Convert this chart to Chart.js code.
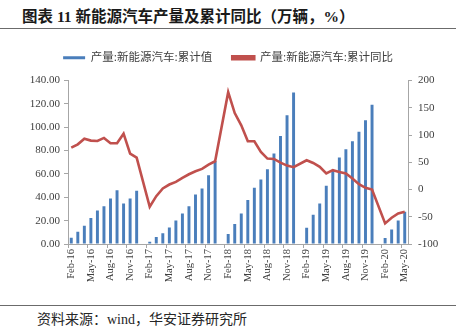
<!DOCTYPE html>
<html>
<head>
<meta charset="utf-8">
<script src="https://cdn.jsdelivr.net/npm/chart.js@4/dist/chart.umd.min.js"></script>
<style>
  html, body { margin: 0; padding: 0; background: #fff; }
  #page { position: relative; width: 456px; height: 336px; overflow: hidden; }
  #title { position: absolute; left: 22px; top: 4px; font: bold 15.5px 'Liberation Serif', 'Noto Sans CJK SC', serif; color: #1a1a1a; white-space: nowrap; }
  .rule { position: absolute; left: 0; width: 456px; height: 1px; background: #6b6b6b; }
  #source { position: absolute; left: 37px; top: 308px; font: 14px 'Liberation Serif', 'Noto Sans CJK SC', serif; color: #262626; white-space: nowrap; }
  #box { position: absolute; left: 0; top: 32px; width: 456px; height: 268px; }
</style>
</head>
<body>
<div id="page">
  <div id="title">图表 11 新能源汽车产量及累计同比（万辆，%）</div>
  <div class="rule" style="top:28px"></div>
  <div id="box"><canvas id="myChart"></canvas></div>
  <div class="rule" style="top:305px"></div>
  <div id="source">资料来源：wind，华安证券研究所</div>
</div>

<script>
    // months, Jan has no separate figure (reported together with Feb)
    var months = [
        'Feb-16', 'Mar-16', 'Apr-16', 'May-16', 'Jun-16', 'Jul-16', 'Aug-16', 'Sep-16', 'Oct-16', 'Nov-16', 'Dec-16',
        'Jan-17', 'Feb-17', 'Mar-17', 'Apr-17', 'May-17', 'Jun-17', 'Jul-17', 'Aug-17', 'Sep-17', 'Oct-17', 'Nov-17', 'Dec-17',
        'Jan-18', 'Feb-18', 'Mar-18', 'Apr-18', 'May-18', 'Jun-18', 'Jul-18', 'Aug-18', 'Sep-18', 'Oct-18', 'Nov-18', 'Dec-18',
        'Jan-19', 'Feb-19', 'Mar-19', 'Apr-19', 'May-19', 'Jun-19', 'Jul-19', 'Aug-19', 'Sep-19', 'Oct-19', 'Nov-19', 'Dec-19',
        'Jan-20', 'Feb-20', 'Mar-20', 'Apr-20', 'May-20'
    ];

    // 产量:新能源汽车:累计值 (万辆)
    var output = [
        5.4, 10.5, 15.7, 22.2, 28.7, 32.4, 39.0, 46.1, 34.7, 39.0, 45.5,
        null, 2.0, 6.0, 9.1, 14.2, 20.2, 26.2, 32.4, 42.4, 47.5, 58.9, 71.0,
        null, 8.6, 17.1, 26.2, 37.6, 48.1, 55.2, 64.0, 77.4, 92.5, 110.2, 129.8,
        null, 14.0, 25.1, 34.7, 49.8, 63.2, 74.0, 81.1, 88.0, 96.2, 105.9, 119.3,
        null, 5.2, 12.5, 20.2, 27.6
    ];

    // 产量:新能源汽车:累计同比 (%)
    var yoy = [
        76.8, 82.9, 93.3, 89.7, 89.0, 94.6, 84.8, 84.8, 102.4, 65.9, 58.5,
        null, -31.7, -12.2, 1.9, 9.1, 14.0, 21.3, 28.0, 33.5, 37.8, 45.7, 51.8,
        null, 178.6, 140.2, 117.7, 88.4, 88.4, 68.9, 56.7, 56.0, 49.4, 43.9, 40.9,
        null, 53.7, 48.7, 41.6, 29.4, 35.4, 32.3, 29.4, 20.2, 9.8, 3.0, 0.0,
        null, -62.2, -51.9, -43.9, -40.9
    ];

    var leftTicks = [0, 20, 40, 60, 80, 100, 120, 140];
    var rightTicks = [-100, -50, 0, 50, 100, 150, 200];

    var FONT = "'Liberation Serif', 'Noto Sans CJK SC', serif";
    var AXIS = '#a6a6a6';

    // give the legend some extra room below it
    var legendRoom = {
        id: 'legendRoom',
        beforeInit: function (chart) {
            var fit = chart.legend.fit;
            chart.legend.fit = function () {
                fit.bind(this)();
                this.height += 7;
            };
        }
    };

    var ctx = document.getElementById('myChart');
    var myChart = new Chart(ctx, {
        type: 'bar',
        data: {
            labels: months,
            datasets: [{
                type: 'bar',
                label: '产量:新能源汽车:累计值',
                data: output,
                yAxisID: 'y',
                backgroundColor: '#4a7ebb',
                borderWidth: 0,
                barPercentage: 0.45,
                categoryPercentage: 1.0,
                order: 2
            }, {
                type: 'line',
                label: '产量:新能源汽车:累计同比',
                data: yoy,
                yAxisID: 'y1',
                borderColor: '#c0504d',
                backgroundColor: '#c0504d',
                borderWidth: 2.6,
                pointRadius: 0,
                tension: 0,
                spanGaps: true,
                order: 1
            }]
        },
        options: {
            responsive: true,
            maintainAspectRatio: false,
            animation: false,
            layout: {padding: 0},
            plugins: {
                legend: {
                    position: 'top',
                    labels: {
                        boxWidth: 22,
                        boxHeight: 3,
                        padding: 20,
                        color: '#404040',
                        font: {family: FONT, size: 11.5},
                        sort: function (a, b) { return a.datasetIndex - b.datasetIndex; }
                    }
                },
                tooltip: {enabled: false}
            },
            scales: {
                x: {
                    grid: {
                        offset: true,
                        drawOnChartArea: false,
                        tickLength: 4,
                        tickColor: function (c) { return c.index % 3 === 0 ? AXIS : 'rgba(0,0,0,0)'; }
                    },
                    border: {display: true, color: AXIS},
                    ticks: {
                        autoSkip: false,
                        minRotation: 90,
                        maxRotation: 90,
                        padding: 1,
                        color: '#404040',
                        font: {family: FONT, size: 10.5},
                        callback: function (v, i) { return i % 3 === 0 ? months[i] : ''; }
                    },
                    afterFit: function (s) { s.height = 56; }
                },
                y: {
                    position: 'left',
                    min: 0,
                    max: 140,
                    afterBuildTicks: function (s) { s.ticks = leftTicks.map(function (v) { return {value: v}; }); },
                    grid: {drawOnChartArea: false, tickLength: 4, tickColor: AXIS},
                    border: {display: true, color: AXIS},
                    ticks: {
                        padding: 4,
                        color: '#404040',
                        font: {family: FONT, size: 11},
                        callback: function (v) { return v.toFixed(2); }
                    },
                    afterFit: function (s) { s.width = 68; }
                },
                y1: {
                    position: 'right',
                    min: -100,
                    max: 200,
                    afterBuildTicks: function (s) { s.ticks = rightTicks.map(function (v) { return {value: v}; }); },
                    grid: {drawOnChartArea: false, tickLength: 4, tickColor: AXIS},
                    border: {display: true, color: AXIS},
                    ticks: {
                        padding: 6,
                        color: '#404040',
                        font: {family: FONT, size: 11}
                    },
                    afterFit: function (s) { s.width = 48; }
                }
            }
        },
        plugins: [legendRoom]
    });
</script>
</body>
</html>
